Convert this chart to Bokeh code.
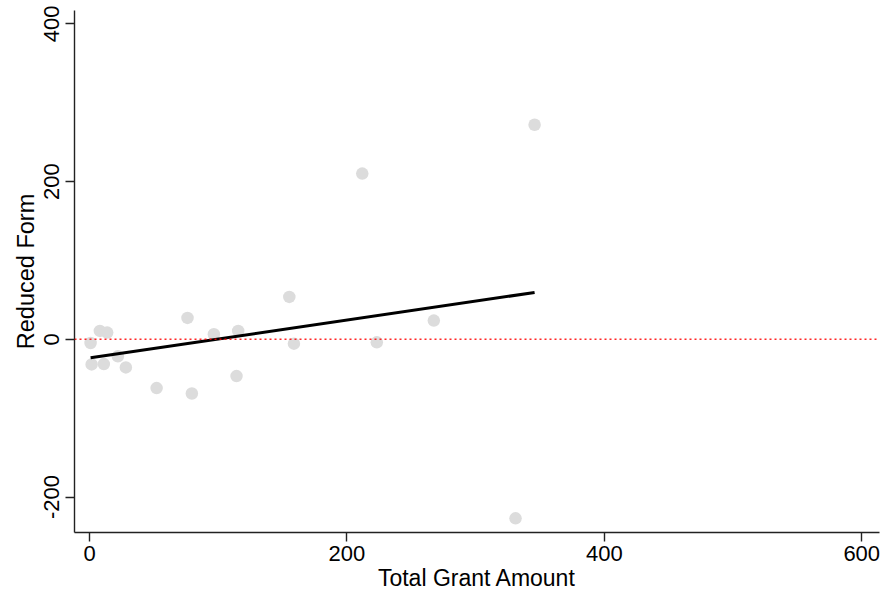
from bokeh.plotting import figure
from bokeh.models import ColumnDataSource, FixedTicker, Span, Range1d
from bokeh.embed import file_html
from bokeh.resources import INLINE

# Data
grant_amount = [0.8, 8.0, 13.7, 1.6, 11.1, 22.0, 28.2, 52.1, 76.1, 79.5,
                96.6, 115.5, 114.2, 155.2, 158.8, 211.9, 223.2, 267.5, 331.0, 345.8]
reduced_form = [-4.7, 10.6, 8.5, -31.8, -31.4, -21.6, -35.6, -61.9, 27.1, -68.7,
                6.4, 10.6, -46.6, 53.8, -5.5, 210.2, -3.8, 23.7, -227.0, 272.1]
fit_x = [0.8, 345.8]
fit_y = [-23.5, 59.4]
x_ticks = [0, 200, 400, 600]
y_ticks = [-200, 0, 200, 400]
x_title = "Total Grant Amount"
y_title = "Reduced Form"

FONT = "Liberation Sans"

p = figure(width=891, height=597, output_backend="svg", toolbar_location=None,
           x_range=Range1d(-11.7, 613.8), y_range=Range1d(-245, 417),
           min_border_left=74, min_border_right=12, min_border_top=10, min_border_bottom=65)
p.background_fill_color = "white"
p.border_fill_color = "white"
p.outline_line_color = None
p.xgrid.visible = False
p.ygrid.visible = False

src = ColumnDataSource(dict(x=grant_amount, y=reduced_form))
p.scatter("x", "y", source=src, size=12.5, fill_color="#dcdcdc", line_color=None)

p.add_layout(Span(location=0, dimension="width", line_color="#ff0000",
                  line_width=1.6, line_dash="2 3", line_alpha=0.85))

p.line(fit_x, fit_y, line_color="black", line_width=3)

for ax in (p.xaxis[0], p.yaxis[0]):
    ax.axis_line_color = "#222222"
    ax.axis_line_width = 1.4
    ax.major_tick_line_color = "#222222"
    ax.major_tick_line_width = 1.4
    ax.major_tick_out = 9
    ax.major_tick_in = 0
    ax.minor_tick_line_color = None
    ax.major_label_text_font = FONT
    ax.major_label_text_font_size = "22px"
    ax.major_label_text_color = "black"
    ax.axis_label_text_font = FONT
    ax.axis_label_text_font_style = "normal"
    ax.axis_label_text_color = "black"

p.xaxis[0].axis_label_text_font_size = "23px"
p.yaxis[0].axis_label_text_font_size = "23.5px"
p.xaxis[0].ticker = FixedTicker(ticks=x_ticks)
p.yaxis[0].ticker = FixedTicker(ticks=y_ticks)
p.yaxis[0].major_label_overrides = {t: str(t) for t in y_ticks}
p.xaxis[0].major_label_overrides = {t: str(t) for t in x_ticks}
p.xaxis[0].axis_label = x_title
p.yaxis[0].axis_label = y_title
p.yaxis[0].major_label_orientation = "vertical"
p.xaxis[0].major_label_standoff = 4
p.yaxis[0].major_label_standoff = 6
p.xaxis[0].axis_label_standoff = 1
p.yaxis[0].axis_label_standoff = 3

open("out.html", "w").write(file_html(p, INLINE))
